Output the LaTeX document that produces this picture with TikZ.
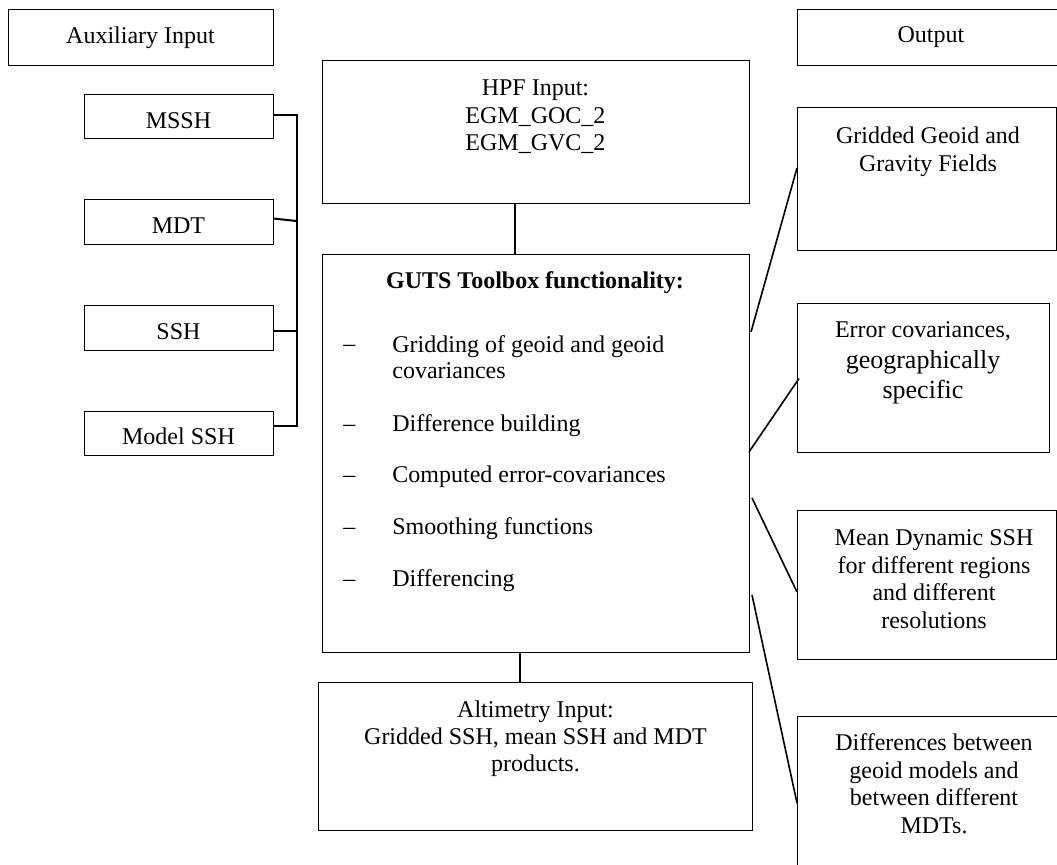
\documentclass[tikz,border=0pt]{standalone}
\usepackage{fontspec}
\setmainfont{Liberation Serif}
\usetikzlibrary{calc}
\begin{document}
\begin{tikzpicture}[x=0.5pt,y=-0.5pt,
  bx/.style n args={2}{draw, line width=0.5pt, anchor=north west, minimum width=#1*0.5pt, minimum height=#2*0.5pt, inner sep=0pt, outer sep=0pt},
  txt/.style={inner sep=0pt, align=center, font=\fontsize{12}{13.8}\selectfont},
  conn/.style={line width=0.8pt},
  spn/.style={line width=1pt}]
\useasboundingbox (0,0) rectangle (1057,865);
\clip (0,0) rectangle (1057,865);
% boxes
\node[bx={265}{56}] (aux) at (8,10) {};
\node[bx={266}{56}] (out) at (797,10) {};
\node[bx={189}{44}] (mssh) at (84,95) {};
\node[bx={189}{45}] (mdt) at (84,200) {};
\node[bx={189}{45}] (ssh) at (84,306) {};
\node[bx={189}{44}] (model) at (84,412) {};
\node[bx={427}{143}] (hpf) at (322,61) {};
\node[bx={427}{398}] (guts) at (322,255) {};
\node[bx={434}{148}] (alt) at (318,683) {};
\node[bx={259}{143}] (grid) at (797,108) {};
\node[bx={252}{149}] (err) at (797,304) {};
\node[bx={259}{149}] (mean) at (797,511) {};
\node[bx={266}{160}] (diff) at (797,717) {};
% texts
\node[txt, anchor=base] (tAux) at (140.5,44) {Auxiliary Input};
\node[txt, anchor=base] (tOut) at (931,43) {Output};
\node[txt, anchor=base] (tMssh) at (178.5,129) {MSSH};
\node[txt, anchor=base] (tMdt) at (178.5,234) {MDT};
\node[txt, anchor=base] (tSsh) at (178.5,340) {SSH};
\node[txt, anchor=base] (tModel) at (178.5,445) {Model SSH};
\node[txt, anchor=north, font=\fontsize{12}{13.8}\selectfont] (tHpf) at (535.5,75.7) {\strut HPF Input:\\EGM\_GOC\_2\\EGM\_GVC\_2};
\node[txt, anchor=base, font=\fontsize{12}{13.8}\selectfont\bfseries] (tGuts) at (535,289) {GUTS Toolbox functionality:};
\node[txt, anchor=base west] (d1) at (343,352) {–};
\node[txt, anchor=base west] (d2) at (343,432) {–};
\node[txt, anchor=base west] (d3) at (343,483) {–};
\node[txt, anchor=base west] (d4) at (343,535) {–};
\node[txt, anchor=base west] (d5) at (343,587) {–};
\node[txt, anchor=north west, align=left, font=\fontsize{12}{13}\selectfont] (i1) at (392,333.8) {\strut Gridding of geoid and geoid\\covariances};
\node[txt, anchor=base west] (i2) at (392,432) {Difference building};
\node[txt, anchor=base west] (i3) at (392,483) {Computed error-covariances};
\node[txt, anchor=base west] (i4) at (392,535) {Smoothing functions};
\node[txt, anchor=base west] (i5) at (392,587) {Differencing};
\node[txt, anchor=north, font=\fontsize{12}{13.5}\selectfont] (tAlt) at (535.5,698.1) {\strut Altimetry Input:\\Gridded SSH, mean SSH and MDT\\products.};
\node[txt, anchor=north, font=\fontsize{12}{14}\selectfont] (tGrid) at (928,123.4) {\strut Gridded Geoid and\\Gravity Fields};
\node[txt, anchor=base] (tErr1) at (923,338) {Error covariances,};
\node[txt, anchor=north, font=\fontsize{13}{15}\selectfont] (tErr2) at (923,347) {\strut geographically\\specific};
\node[txt, anchor=north] (tMean) at (934,525.7) {\strut Mean Dynamic SSH\\for different regions\\and different\\resolutions};
\node[txt, anchor=north] (tDiff) at (934,730.7) {\strut Differences between\\geoid models and\\between different\\MDTs.};
% connectors left
\coordinate (sp) at (296.5,0);
\draw[spn] ([yshift=1pt]mssh.east) -| ([yshift=4pt]model.east -| sp) -- ([yshift=4pt]model.east);
\draw[spn] ([yshift=2pt]mdt.east) -- ([yshift=0.75pt]mdt.east -| sp);
\draw[spn] ([yshift=-1.25pt]ssh.east) -- ([yshift=-1.25pt]ssh.east -| sp);
% vertical connectors
\coordinate (c1) at (515,0);
\coordinate (c2) at (520,0);
\draw[conn] (hpf.south -| c1) -- (guts.north -| c1);
\draw[conn] (guts.south -| c2) -- (alt.north -| c2);
% right connectors
\draw[conn] ($(guts.north east)+(2,77)$) -- ($(grid.north west)+(0,60)$);
\draw[conn] ($(guts.north east)+(0,197)$) -- ($(err.west)+(2,0)$);
\draw[conn] ($(guts.north east)+(3,243)$) -- ($(mean.north west)+(0,81)$);
\draw[conn] ($(guts.north east)+(3,340)$) -- ($(diff.north west)+(0,86)$);
\end{tikzpicture}
\end{document}
